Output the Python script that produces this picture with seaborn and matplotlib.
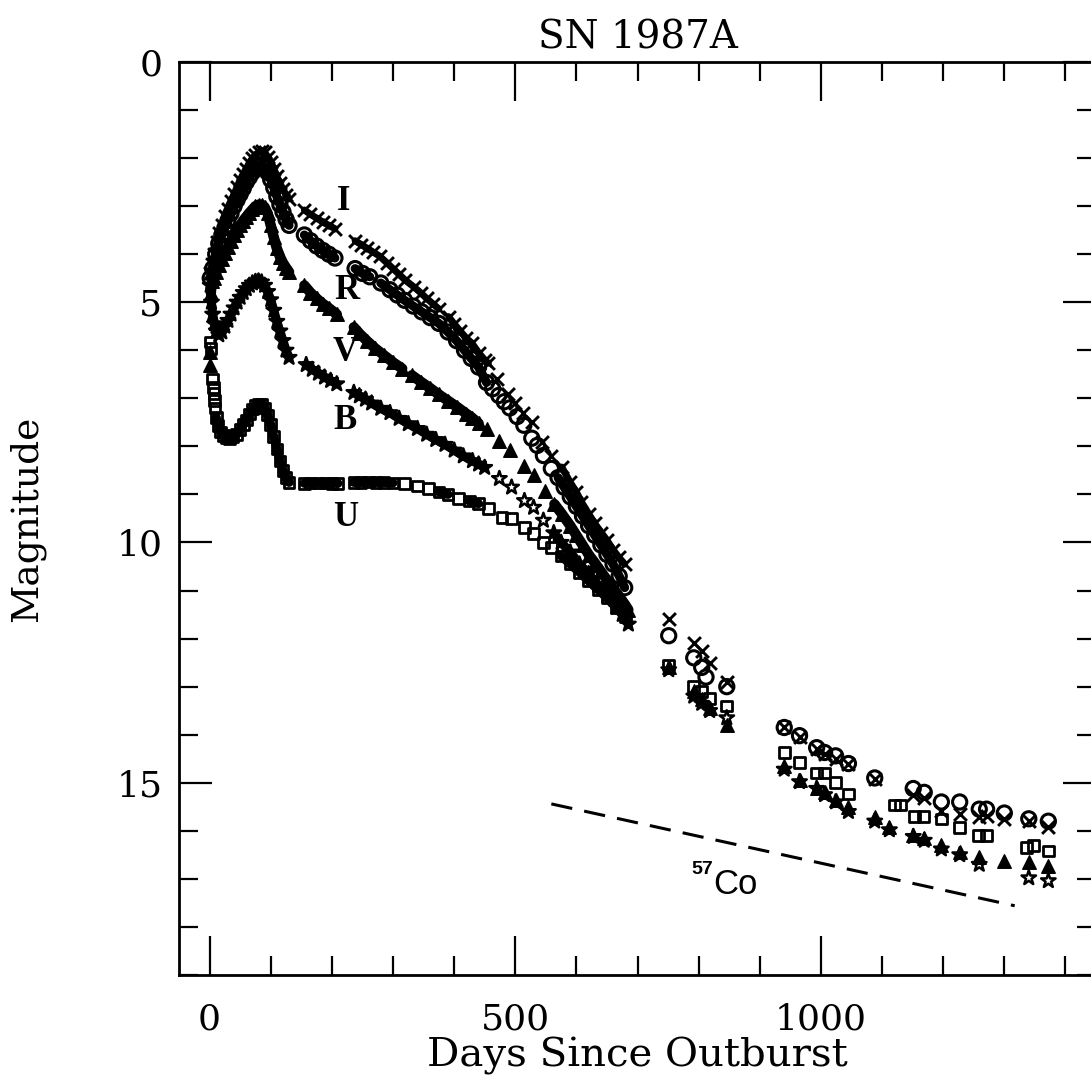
import numpy as np
import pandas as pd
import matplotlib
matplotlib.use("Agg")
import matplotlib.pyplot as plt
from matplotlib.ticker import MultipleLocator
import seaborn as sns

# ---------------- data ----------------
# I band (crosses)
i_day = [1, 4, 8, 12, 16, 20, 25, 30, 35, 40, 45, 50, 55, 60, 65, 70, 75, 80, 85, 90,
         95, 100, 105, 110, 115, 120, 125, 130,
         155, 165, 175, 185, 195, 205,
         238, 248, 258, 268, 278, 290, 300, 310, 320, 335, 345, 355, 365, 375, 391, 400,
         410, 420, 429, 440, 450, 456, 470, 488, 500, 512, 527, 543, 559, 576, 590, 600,
         608, 620, 630, 641, 650, 660, 669, 679,
         751, 792, 805, 818, 846,
         940, 965, 993, 1006, 1024, 1045, 1088, 1151, 1169, 1197, 1227, 1259, 1271, 1300,
         1340, 1372]
i_mag = [4.4, 4.2, 4.0, 3.75, 3.55, 3.4, 3.2, 3.05, 2.9, 2.75, 2.6, 2.45, 2.33, 2.22, 2.1,
         2.0, 1.93, 1.88, 1.85, 1.88, 1.97, 2.08, 2.22, 2.38, 2.52, 2.65, 2.76, 2.85,
         3.08, 3.17, 3.25, 3.33, 3.4, 3.47,
         3.72, 3.8, 3.88, 3.96, 4.04, 4.18, 4.3, 4.42, 4.54, 4.69, 4.8, 4.92, 5.03, 5.14,
         5.3, 5.45, 5.6, 5.75, 5.85, 6.05, 6.2, 6.27, 6.6, 6.9, 7.1, 7.3, 7.5, 7.9, 8.2,
         8.43, 8.75, 8.95, 9.15, 9.4, 9.6, 9.8, 9.95, 10.15, 10.3, 10.45,
         11.6, 12.1, 12.25, 12.5, 12.9,
         13.85, 14.05, 14.3, 14.4, 14.5, 14.62, 14.92, 15.25, 15.32, 15.58, 15.65, 15.72,
         15.7, 15.75, 15.8, 15.93]

# R band (open circles)
r_day = [1, 5, 10, 15, 20, 25, 30, 35, 40, 45, 50, 55, 60, 65, 70, 75, 80, 85, 90, 95,
         100, 105, 110, 115, 120, 125, 130,
         155, 165, 175, 185, 195, 205,
         238, 250, 262, 280, 295, 307, 319, 333, 347, 361, 375, 390, 404, 417, 428, 440,
         453, 463, 473, 482, 491, 503, 514, 527, 536, 546, 559, 570, 580, 590, 600, 610,
         620, 630, 640, 650, 660, 670, 679,
         751, 792, 805, 812, 846,
         940, 965, 993, 1006, 1024, 1045, 1088, 1151, 1169, 1197, 1227, 1259, 1271, 1300,
         1340, 1372]
r_mag = [4.5, 4.3, 4.0, 3.78, 3.6, 3.45, 3.3, 3.15, 3.0, 2.87, 2.75, 2.63, 2.5, 2.4, 2.3,
         2.22, 2.16, 2.15, 2.2, 2.3, 2.45, 2.62, 2.8, 2.97, 3.12, 3.27, 3.4,
         3.6, 3.72, 3.83, 3.92, 4.0, 4.08,
         4.3, 4.4, 4.47, 4.6, 4.74, 4.85, 4.96, 5.08, 5.2, 5.32, 5.44, 5.62, 5.8, 6.0,
         6.17, 6.35, 6.67, 6.8, 6.94, 7.07, 7.2, 7.38, 7.56, 7.83, 7.98, 8.19, 8.46, 8.65,
         8.85, 9.05, 9.25, 9.45, 9.65, 9.85, 10.05, 10.25, 10.45, 10.7, 10.94,
         11.94, 12.4, 12.6, 12.8, 13.0,
         13.85, 14.02, 14.27, 14.37, 14.44, 14.6, 14.9, 15.12, 15.2, 15.4, 15.4, 15.55,
         15.55, 15.63, 15.75, 15.8]

# V band (filled triangles)
v_day = [0.3, 1, 2, 4, 7, 11, 15, 20, 25, 30, 35, 40, 45, 50, 55, 60, 65, 70, 75, 80, 85,
         90, 95, 100, 105, 110, 115, 120, 125, 130,
         155, 165, 175, 185, 195, 208,
         236, 245, 257, 270, 285, 300, 315, 331, 345, 360, 375, 390, 405, 420, 429, 440,
         453, 473, 491, 515, 530, 548, 564, 576, 590, 600, 610, 620, 630, 640, 650, 660,
         670, 680, 685,
         751, 792, 805, 818, 846,
         940, 965, 993, 1006, 1024, 1045, 1088, 1112, 1151, 1169, 1197, 1227, 1259, 1300,
         1340, 1372]
v_mag = [6.31, 6.04, 4.8, 4.55, 4.5, 4.38, 4.22, 4.1, 3.97, 3.85, 3.72, 3.6, 3.5, 3.4,
         3.3, 3.22, 3.14, 3.07, 3.0, 2.97, 2.97, 3.02, 3.15, 3.4, 3.65, 3.88, 4.05, 4.18,
         4.28, 4.37,
         4.65, 4.8, 4.92, 5.03, 5.12, 5.25,
         5.52, 5.65, 5.8, 5.95, 6.1, 6.25, 6.38, 6.52, 6.65, 6.78, 6.92, 7.05, 7.18, 7.32,
         7.4, 7.52, 7.63, 7.88, 8.08, 8.4, 8.6, 8.92, 9.2, 9.4, 9.65, 9.85, 10.05, 10.25,
         10.42, 10.6, 10.78, 10.95, 11.12, 11.3, 11.4,
         12.6, 13.1, 13.25, 13.45, 13.8,
         14.65, 14.95, 15.1, 15.2, 15.35, 15.5, 15.72, 15.93, 16.08, 16.15, 16.3, 16.45,
         16.55, 16.63, 16.65, 16.73]

# B band (open stars)
b_day = [1, 3, 5, 8, 11, 15, 20, 25, 30, 35, 40, 45, 50, 55, 60, 65, 70, 75, 80, 85, 90,
         95, 100, 105, 110, 115, 120, 125, 130,
         158, 168, 178, 188, 198, 208,
         236, 245, 255, 265, 280, 295, 310, 325, 340, 355, 370, 385, 400, 415, 430, 440,
         450, 474, 494, 515, 530, 546, 563, 575, 590, 605, 620, 635, 650, 665, 675, 685,
         751, 792, 805, 818, 846,
         940, 965, 993, 1006, 1024, 1045, 1088, 1112, 1151, 1169, 1197, 1227, 1259, 1340,
         1372]
b_mag = [4.65, 5.0, 5.25, 5.45, 5.6, 5.68, 5.62, 5.5, 5.38, 5.25, 5.12, 5.0, 4.9, 4.8,
         4.72, 4.65, 4.6, 4.57, 4.56, 4.58, 4.65, 4.78, 4.95, 5.17, 5.4, 5.6, 5.8, 6.0, 6.15,
         6.3, 6.4, 6.48, 6.56, 6.63, 6.7,
         6.88, 6.95, 7.02, 7.1, 7.21, 7.3, 7.42, 7.53, 7.63, 7.75, 7.86, 7.96, 8.08, 8.2,
         8.3, 8.37, 8.44, 8.67, 8.85, 9.13, 9.27, 9.54, 9.8, 10.0, 10.2, 10.45, 10.65,
         10.88, 11.1, 11.35, 11.5, 11.7,
         12.65, 13.2, 13.35, 13.5, 13.65,
         14.72, 14.98, 15.12, 15.25, 15.4, 15.6, 15.8, 15.98, 16.12, 16.2, 16.38, 16.5,
         16.7, 16.98, 17.04]

# U band (open squares)
u_day = [1, 2, 5, 6, 7, 8, 9, 11, 14, 18, 23, 28, 33, 38, 44, 50, 55, 60, 65, 70, 75, 80,
         85, 90, 95, 100, 105, 110, 115, 120, 125, 130,
         155, 165, 178, 190, 200, 210,
         236, 248, 260, 272, 285, 300, 319, 340, 358, 375, 390, 407, 425, 440, 456, 478,
         494, 515, 530, 546, 559, 575, 590, 605, 620, 635, 650, 665, 680,
         751, 792, 805, 818, 846,
         940, 965, 993, 1006, 1024, 1045, 1120, 1130, 1153, 1168, 1197, 1227, 1258, 1271,
         1336, 1348, 1372]
u_mag = [5.83, 5.96, 6.6, 6.77, 6.9, 7.04, 7.2, 7.4, 7.56, 7.7, 7.77, 7.82, 7.83, 7.8,
         7.75, 7.65, 7.55, 7.45, 7.33, 7.22, 7.15, 7.12, 7.12, 7.2, 7.35, 7.55, 7.8, 8.05,
         8.3, 8.5, 8.65, 8.75,
         8.77, 8.76, 8.76, 8.76, 8.77, 8.77,
         8.75, 8.75, 8.74, 8.75, 8.75, 8.76, 8.77, 8.82, 8.88, 8.95, 9.0, 9.08, 9.14, 9.19,
         9.29, 9.48, 9.5, 9.69, 9.81, 10.0, 10.1, 10.28, 10.45, 10.62, 10.8, 10.98, 11.15,
         11.35, 11.55,
         12.55, 13.0, 13.1, 13.25, 13.4,
         14.37, 14.58, 14.8, 14.8, 15.0, 15.23, 15.46, 15.46, 15.7, 15.7, 15.75, 15.93,
         16.1, 16.1, 16.35, 16.3, 16.42]

# 57Co decay line (end points)
co57_day = [559, 1317]
co57_mag = [15.44, 17.56]

band_names = ["I", "R", "V", "B", "U"]
x_ticks = [0, 500, 1000]
y_ticks = [0, 5, 10, 15]

# ---------------- style ----------------
sns.set_theme(style="ticks")
plt.rcParams["font.family"] = ["DejaVu Serif"]
plt.rcParams["axes.edgecolor"] = "black"
plt.rcParams["xtick.color"] = "black"
plt.rcParams["ytick.color"] = "black"
plt.rcParams["text.color"] = "black"
plt.rcParams["axes.labelcolor"] = "black"

fig = plt.figure(figsize=(10.91, 10.76), dpi=100)
ax = fig.add_axes([0.1641, 0.0939, 0.8405, 0.8485])

marker_kw = {
    "I": dict(marker="x", s=85, color="black", linewidth=2.1),
    "R": dict(marker="o", s=105, facecolor="none", edgecolor="black", linewidth=2.2),
    "V": dict(marker="^", s=95, facecolor="black", edgecolor="black", linewidth=1.0),
    "B": dict(marker="*", s=120, facecolor="none", edgecolor="black", linewidth=1.8),
    "U": dict(marker="s", s=58, facecolor="none", edgecolor="black", linewidth=2.0),
}
# width of the dense (near-daily) observation band and the day windows where
# observations were dense enough to merge into a solid band
band_width = {"I": 5.0, "R": 6.5, "V": 7.5, "B": 6.5, "U": 6.5}
band_windows = {
    "I": [(1, 456), (560, 690)],
    "R": [(1, 453), (560, 690)],
    "V": [(2, 440), (564, 690)],
    "B": [(1, 450), (563, 690)],
    "U": [(11, 456), (559, 690)],
}
band_data = {"I": (i_day, i_mag), "R": (r_day, r_mag), "V": (v_day, v_mag),
             "B": (b_day, b_mag), "U": (u_day, u_mag)}

for name in band_names:
    d, m = band_data[name]
    df = pd.DataFrame({"day": d, "mag": m})
    for lo, hi in band_windows[name]:
        dense = df[(df["day"] >= lo) & (df["day"] <= hi)].copy()
        dense["seg"] = (dense["day"].diff() > 15).cumsum()
        sns.lineplot(data=dense, x="day", y="mag", units="seg", estimator=None, sort=False,
                     ax=ax, color="black", linewidth=band_width[name],
                     solid_capstyle="round", solid_joinstyle="round", legend=False, zorder=2)
    sns.scatterplot(data=df, x="day", y="mag", ax=ax, legend=False, zorder=3,
                    **marker_kw[name])

co_df = pd.DataFrame({"day": co57_day, "mag": co57_mag})
sns.lineplot(data=co_df, x="day", y="mag", ax=ax, color="black", linewidth=2.2,
             linestyle=(0, (7, 4)), estimator=None, sort=False, legend=False)

# ---------------- axes ----------------
ax.set_xlim(-50, 1450)
ax.set_ylim(19, 0)
ax.xaxis.set_major_locator(MultipleLocator(500))
ax.xaxis.set_minor_locator(MultipleLocator(100))
ax.yaxis.set_major_locator(MultipleLocator(5))
ax.yaxis.set_minor_locator(MultipleLocator(1))
ax.set_xticks(x_ticks)
ax.set_yticks(y_ticks)

for sp in ax.spines.values():
    sp.set_linewidth(2.0)
    sp.set_color("black")
    sp.set_visible(True)

ax.tick_params(which="both", direction="in", top=True, right=True, bottom=True, left=True,
               color="black", width=1.6)
ax.tick_params(axis="x", which="major", length=28, pad=20, labelsize=26)
ax.tick_params(axis="x", which="minor", length=14)
ax.tick_params(axis="y", which="major", length=24, pad=12, labelsize=26)
ax.tick_params(axis="y", which="minor", length=14)

ax.set_xlabel("Days Since Outburst", fontsize=29, labelpad=0)
ax.set_ylabel("Magnitude", fontsize=27)
ax.yaxis.set_label_coords(-0.146, 0.5)
ax.set_title("SN 1987A", fontsize=28, pad=10)

# band labels
label_pos = {"I": (219, 2.9), "R": (224, 4.75), "V": (222, 6.05), "B": (222, 7.46), "U": (222, 9.47)}
for name in band_names:
    x, y = label_pos[name]
    ax.text(x, y, name, ha="center", va="center", fontsize=25, fontweight="bold",
            family="Liberation Serif")

ax.text(824, 17.12, "Co", ha="left", va="center", fontsize=25, family="Liberation Sans")
ax.text(823, 16.8, "57", ha="right", va="center", fontsize=14, fontweight="bold",
        family="Liberation Sans")

fig.savefig("out.png", dpi=100)
